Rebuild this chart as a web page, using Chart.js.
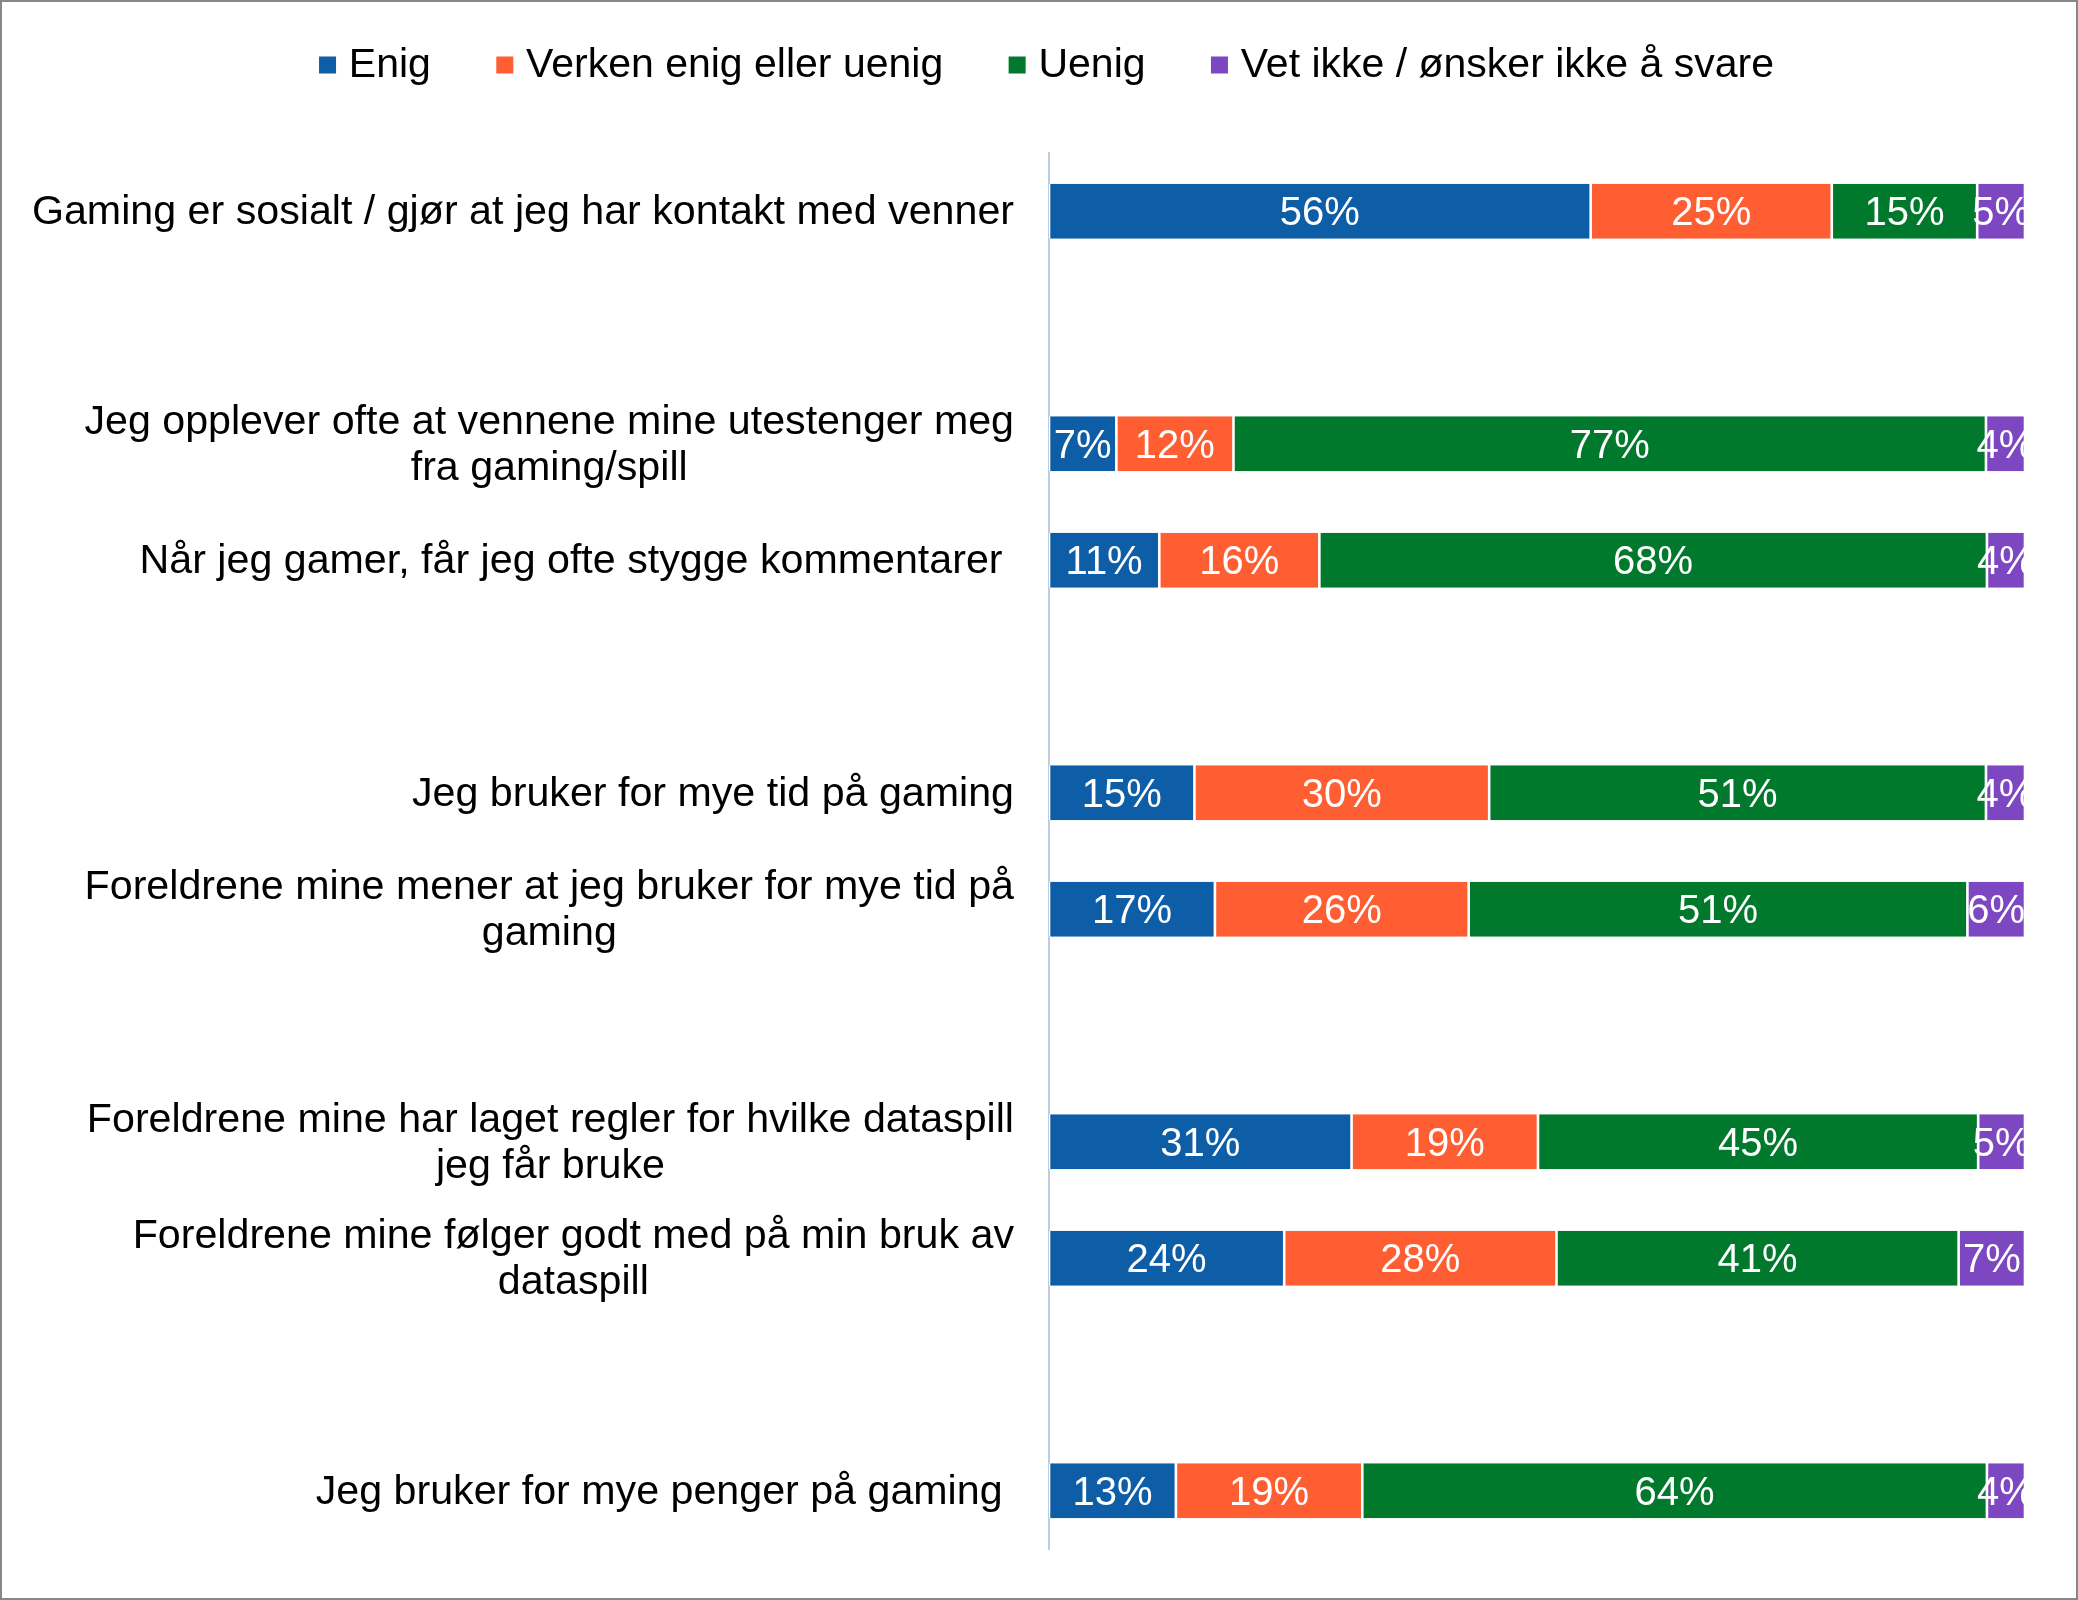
<!DOCTYPE html>
<html>
<head>
<meta charset="utf-8">
<script src="https://cdn.jsdelivr.net/npm/chart.js@4.4.1/dist/chart.umd.min.js"></script>
<style>
html,body{margin:0;padding:0;background:#fff;}
#wrap{width:2078px;height:1600px;position:relative;}
</style>
</head>
<body>
<div id="wrap"><canvas id="c" width="2078" height="1600"></canvas></div>
<script>
// ---------- DATA ----------
const categories = [
  "Gaming er sosialt / gjør at jeg har kontakt med venner",
  ["Jeg opplever ofte at vennene mine utestenger meg", "fra gaming/spill"],
  "Når jeg gamer, får jeg ofte stygge kommentarer ",
  "Jeg bruker for mye tid på gaming",
  ["Foreldrene mine mener at jeg bruker for mye tid på", "gaming"],
  ["Foreldrene mine har laget regler for hvilke dataspill", "jeg får bruke"],
  ["Foreldrene mine følger godt med på min bruk av", "dataspill"],
  "Jeg bruker for mye penger på gaming "
];
const seriesNames = ["Enig", "Verken enig eller uenig", "Uenig", "Vet ikke / ønsker ikke å svare"];
const enig    = [55.5,  6.9, 11.3, 14.9, 17.0, 31.0, 24.1, 13.0];
const verken  = [24.7, 12.0, 16.4, 30.2, 26.0, 19.1, 27.9, 19.1];
const uenig   = [14.9, 77.1, 68.4, 50.9, 51.1, 45.1, 41.2, 64.0];
const vetIkke = [ 4.9,  4.0,  3.9,  4.0,  5.9,  4.8,  6.8,  3.9];
// categories per group; an empty row separates groups
const groupSizes = [1, 2, 2, 2, 1];

// ---------- STYLE ----------
const seriesColors = ["#0E5DA7", "#FF5E32", "#00792D", "#7E47C2"];
const FONT = '"Liberation Sans", Arial, sans-serif';
const LABEL_FONT = 41.2, LABEL_RIGHT = 1014, LINE_H = 46;
const DL_FONT = 40;
const AXIS_X = 1049;

// ---------- BUILD SLOTS ----------
const slotLabels = [], slotIndex = [];
{
  let k = 0;
  groupSizes.forEach((n, g) => {
    for (let i = 0; i < n; i++) { slotLabels.push(categories[k]); slotIndex.push(k); k++; }
    if (g < groupSizes.length - 1) { slotLabels.push(""); slotIndex.push(-1); }
  });
}
const toSlots = arr => slotIndex.map(i => (i < 0 ? null : arr[i]));
const seriesValues = [enig, verken, uenig, vetIkke];

// ---------- PLUGINS ----------
const framePlugin = {
  id: "frame",
  afterDraw(chart) {
    const ctx = chart.ctx;
    ctx.save();
    ctx.strokeStyle = "#878787";
    ctx.lineWidth = 2;
    ctx.strokeRect(1, 1, chart.width - 2, chart.height - 2);
    ctx.restore();
  }
};

const catLabelPlugin = {
  id: "catLabels",
  afterDraw(chart) {
    const ctx = chart.ctx, ys = chart.scales.y;
    ctx.save();
    ctx.font = LABEL_FONT + "px " + FONT;
    ctx.fillStyle = "#000";
    ctx.textAlign = "center";
    ctx.textBaseline = "alphabetic";
    chart.data.labels.forEach((lab, i) => {
      if (!lab || (Array.isArray(lab) && !lab.length)) return;
      const lines = Array.isArray(lab) ? lab : [lab];
      const maxW = Math.max(...lines.map(l => ctx.measureText(l).width));
      const cx = LABEL_RIGHT - maxW / 2;
      const cy = ys.getPixelForValue(i) - 2;
      const n = lines.length;
      lines.forEach((l, j) => {
        const ly = cy + (j - (n - 1) / 2) * LINE_H + 0.358 * LABEL_FONT;
        ctx.fillText(l, cx, ly);
      });
    });
    ctx.restore();
  }
};

const dataLabelPlugin = {
  id: "dataLabels",
  afterDatasetsDraw(chart) {
    const ctx = chart.ctx, a = chart.chartArea;
    ctx.save();
    ctx.beginPath();
    ctx.rect(a.left, a.top, a.right - a.left, a.bottom - a.top);
    ctx.clip();
    ctx.font = DL_FONT + "px " + FONT;
    ctx.fillStyle = "#fff";
    ctx.textAlign = "center";
    ctx.textBaseline = "alphabetic";
    chart.data.datasets.forEach((ds, di) => {
      const meta = chart.getDatasetMeta(di);
      meta.data.forEach((bar, i) => {
        const v = ds.data[i];
        if (v == null) return;
        const p = bar.getProps(["x", "y", "base"], true);
        const cx = (p.x + p.base) / 2;
        ctx.fillText(Math.round(v) + "%", cx, p.y + 0.358 * DL_FONT);
      });
    });
    ctx.restore();
  }
};

const legendPlugin = {
  id: "customLegend",
  afterDraw(chart) {
    const ctx = chart.ctx;
    const box = 17, gap = 12.8, pad = 65.4, fs = 41, centerX = 1046.5, midY = 65, baseY = 77;
    ctx.save();
    ctx.font = fs + "px " + FONT;
    ctx.textAlign = "left";
    ctx.textBaseline = "alphabetic";
    const items = chart.data.datasets.map(d => ({ text: d.label, color: d.backgroundColor, w: ctx.measureText(d.label).width }));
    const total = items.reduce((s, it) => s + box + gap + it.w, 0) + pad * (items.length - 1);
    let x = centerX - total / 2;
    items.forEach(it => {
      ctx.fillStyle = it.color;
      ctx.fillRect(x, midY - box / 2, box, box);
      ctx.fillStyle = "#000";
      ctx.fillText(it.text, x + box + gap, baseY);
      x += box + gap + it.w + pad;
    });
    ctx.restore();
  }
};

// ---------- CHART ----------
Chart.defaults.font.family = FONT;
new Chart(document.getElementById("c"), {
  type: "bar",
  data: {
    labels: slotLabels,
    datasets: seriesNames.map((name, si) => ({
      label: name,
      data: toSlots(seriesValues[si]),
      backgroundColor: seriesColors[si],
      borderColor: "#ffffff",
      borderWidth: { left: 1.3, right: 1.3, top: 0, bottom: 0 },
      borderSkipped: false,
      barPercentage: 0.4727,
      categoryPercentage: 1
    }))
  },
  options: {
    indexAxis: "y",
    responsive: false,
    animation: false,
    devicePixelRatio: 1,
    layout: { padding: { top: 153, right: 53, bottom: 51, left: 0 } },
    plugins: { legend: { display: false }, tooltip: { enabled: false } },
    scales: {
      x: { stacked: true, min: 0, max: 100, display: false },
      y: {
        stacked: true,
        grid: { display: false },
        border: { display: true, color: "#BCCDDE", width: 2 },
        ticks: { display: false },
        afterFit(s) { s.width = AXIS_X; }
      }
    }
  },
  plugins: [framePlugin, catLabelPlugin, dataLabelPlugin, legendPlugin]
});
</script>
</body>
</html>
